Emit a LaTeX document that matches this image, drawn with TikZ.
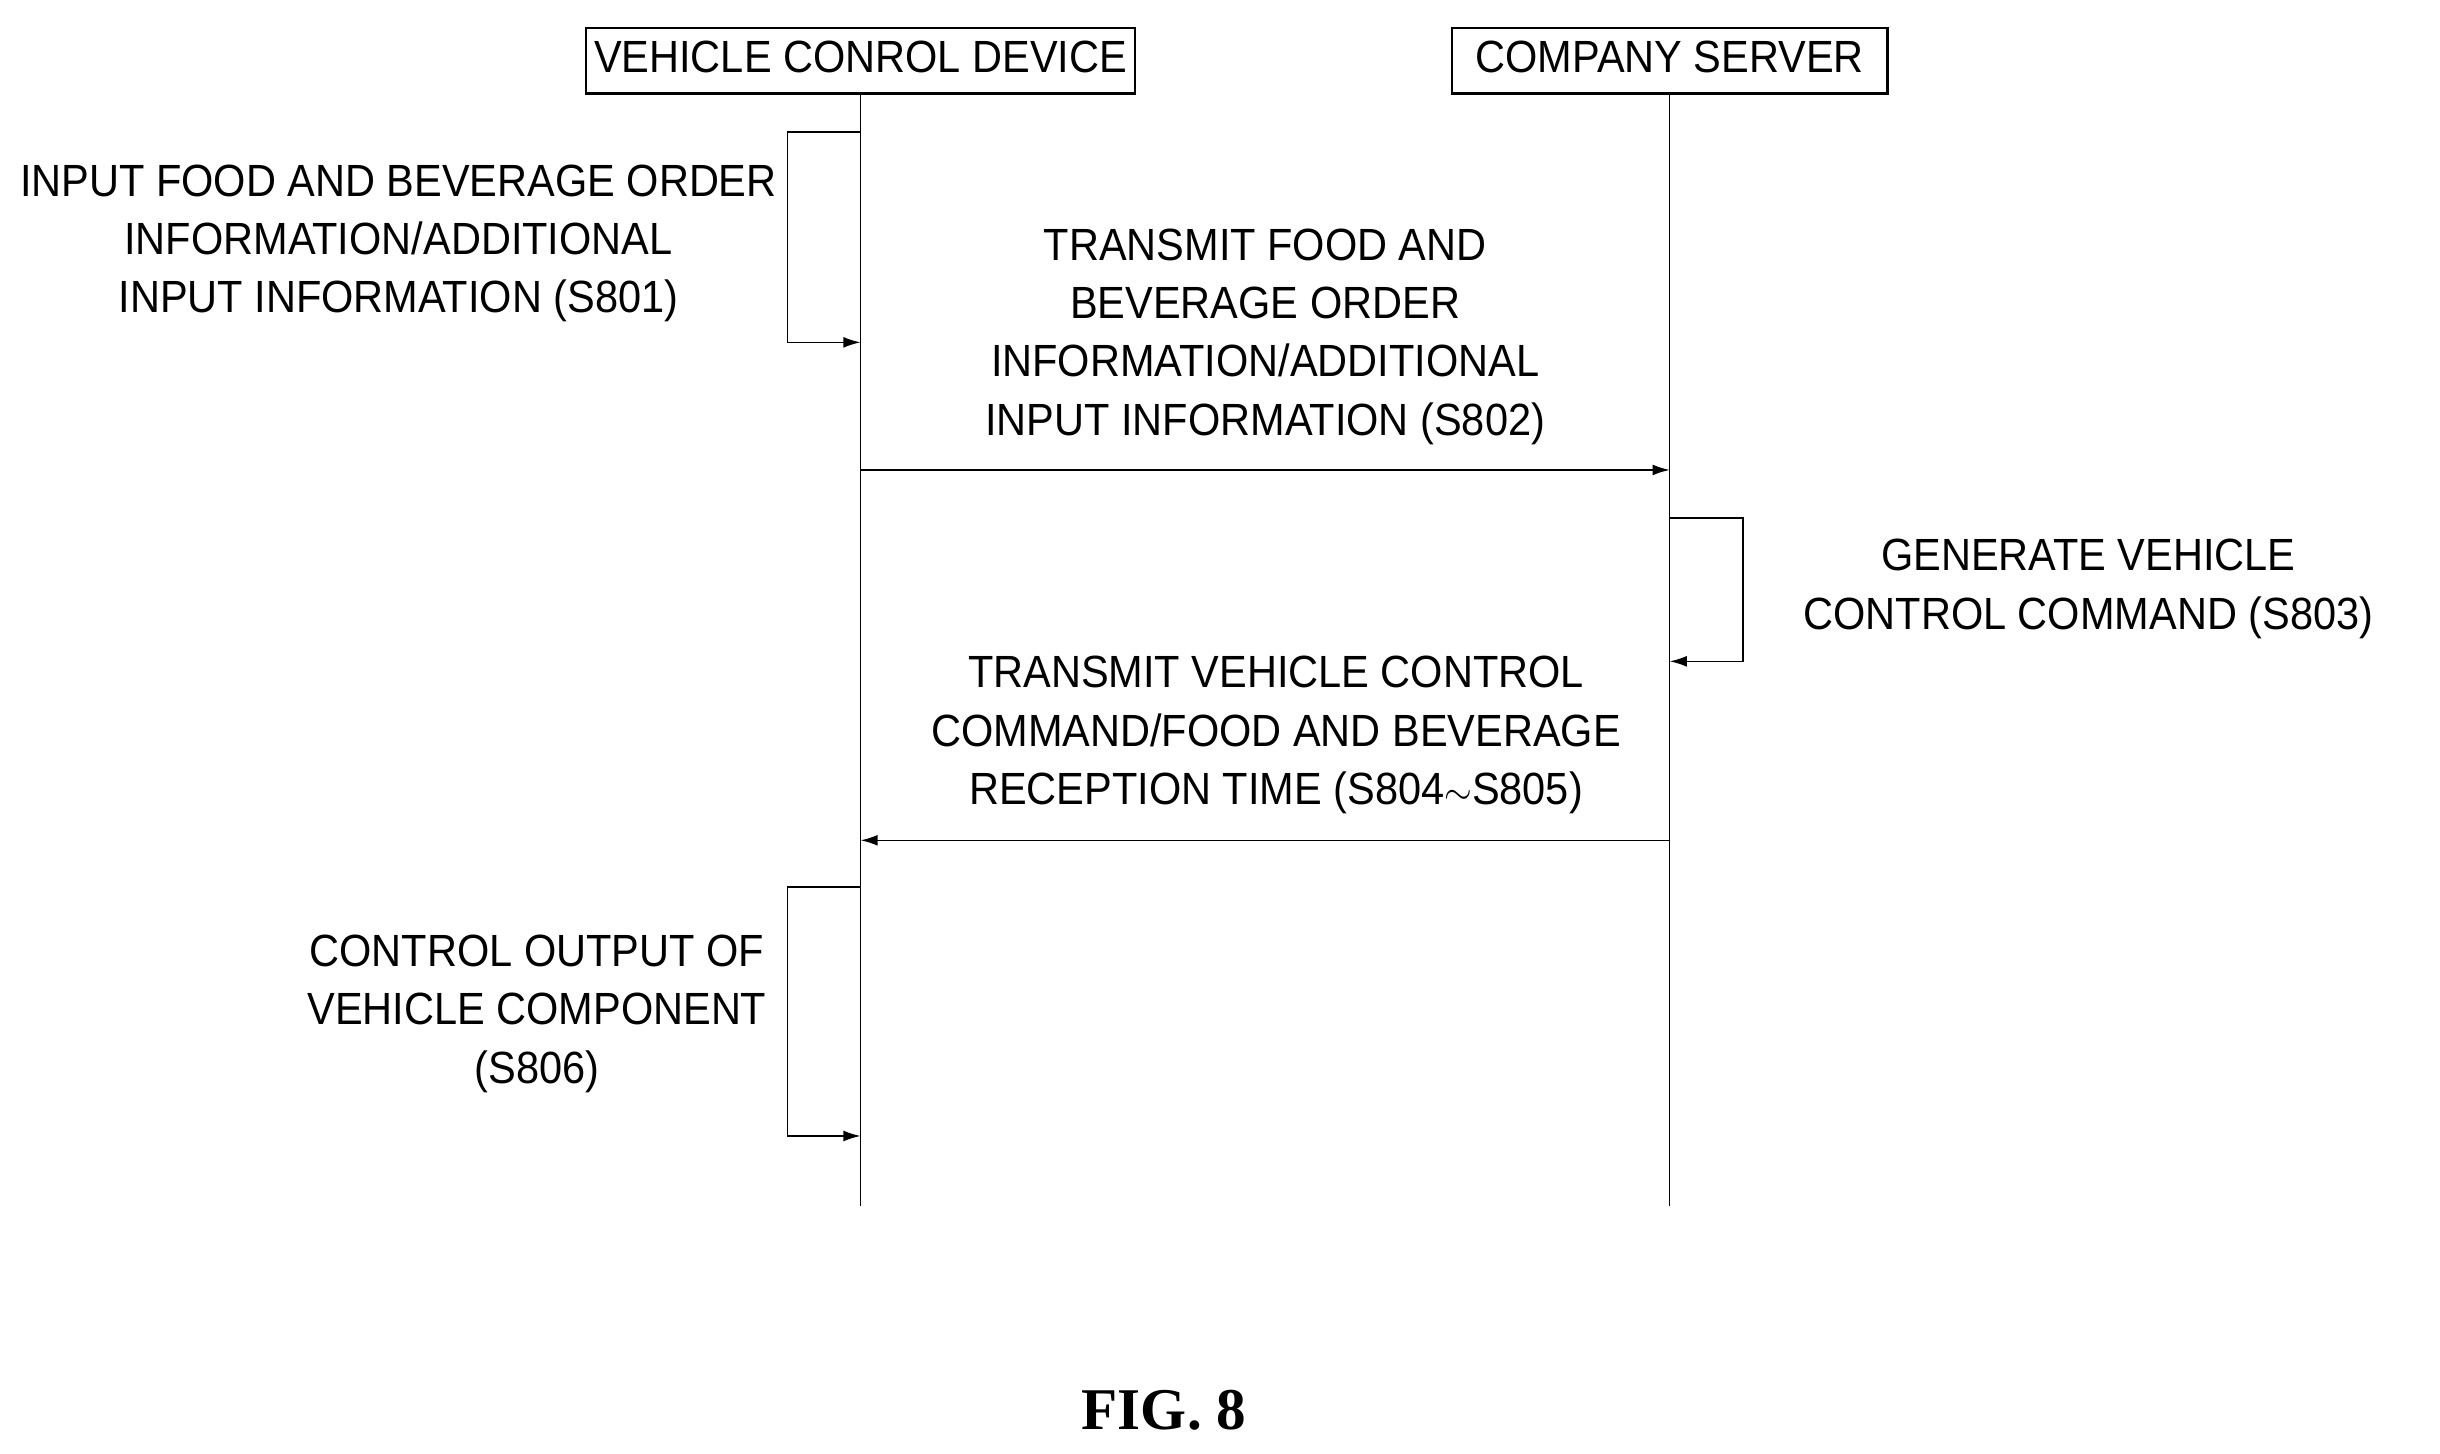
\documentclass[tikz,border=0pt]{standalone}
\usepackage{fontspec}
\setmainfont{Liberation Sans}
\usepackage{graphicx}
\newfontfamily\figfont{Liberation Serif}
\newcommand\nt[1]{\scalebox{0.92}[1]{\fontsize{29}{37.5}\selectfont\begin{tabular}{@{}c@{}}#1\end{tabular}}}
\usetikzlibrary{arrows.meta}
\begin{document}
\begin{tikzpicture}[x=1pt,y=-1pt,
  box/.style={draw,line width=1.6pt,minimum height=42pt,inner sep=0pt},
  life/.style={line width=0.8pt},
  msg/.style={line width=1pt,-{Latex[length=11pt,width=7pt]}},
  lbl/.style={inner sep=0pt}]
\useasboundingbox[fill=white] (0,0) rectangle (1568,934);
\node[box,minimum width=353pt] (vcd) at (553,39) {\nt{VEHICLE CONROL DEVICE}};
\node[box,minimum width=280pt] (cs) at (1073,39) {\nt{COMPANY SERVER}};
\coordinate (vend) at (553,775);
\coordinate (cend) at (1073,775);
\draw[life] (vcd.south) -- (vend);
\draw[life] (cs.south) -- (cend);
% S801
\coordinate (a1) at (553,85); \coordinate (a2) at (553,220);
\draw[msg] (a1) -- ++(-47,0) |- (a2);
\node[lbl] (t801) at (256,156) {\nt{INPUT FOOD AND BEVERAGE ORDER\\INFORMATION/ADDITIONAL\\INPUT INFORMATION (S801)}};
% S802
\coordinate (b1) at (553,302); \coordinate (b2) at (1073,302);
\draw[msg] (b1) -- (b2);
\node[lbl] (t802) at (813,216) {\nt{TRANSMIT FOOD AND\\BEVERAGE ORDER\\INFORMATION/ADDITIONAL\\INPUT INFORMATION (S802)}};
% S803
\coordinate (c1) at (1073,333); \coordinate (c2) at (1073,425);
\draw[msg] (c1) -- ++(47,0) |- (c2);
\node[lbl] (t803) at (1342,378) {\nt{GENERATE VEHICLE\\CONTROL COMMAND (S803)}};
% S804
\coordinate (d1) at (1073,540); \coordinate (d2) at (553,540);
\draw[msg] (d1) -- (d2);
\node[lbl] (t804) at (820,472) {\nt{TRANSMIT VEHICLE CONTROL\\COMMAND/FOOD AND BEVERAGE\\RECEPTION TIME (S804$\sim$S805)}};
% S806
\coordinate (e1) at (553,570); \coordinate (e2) at (553,730);
\draw[msg] (e1) -- ++(-47,0) |- (e2);
\node[lbl] (t806) at (345,651) {\nt{CONTROL OUTPUT OF\\VEHICLE COMPONENT\\(S806)}};
\node[lbl] (fig) at (748,906) {\figfont\bfseries\fontsize{38}{40}\selectfont FIG. 8};
\end{tikzpicture}
\end{document}
